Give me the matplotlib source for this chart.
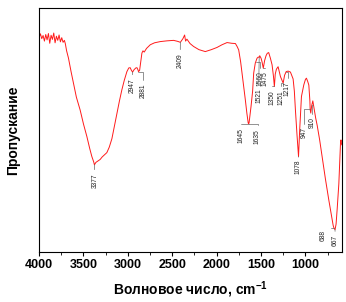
import numpy as np
import matplotlib
matplotlib.use('Agg')
import matplotlib.pyplot as plt
from matplotlib.ticker import MultipleLocator

plt.rcParams['font.family'] = ['Liberation Sans', 'DejaVu Sans']
plt.rcParams['mathtext.fontset'] = 'custom'
plt.rcParams['mathtext.bf'] = 'Liberation Sans:bold'
plt.rcParams['mathtext.rm'] = 'Liberation Sans:bold'

# IR spectrum (wavenumber, transmittance in arbitrary units)
wavenumber = [4000, 3985, 3970, 3955, 3940, 3925, 3910, 3895, 3880, 3865, 3850, 3835, 3820,
              3805, 3790, 3775, 3760, 3745, 3730, 3715, 3705, 3690, 3669, 3640, 3613, 3580,
              3538, 3500, 3462, 3430, 3406, 3385, 3377, 3360, 3340, 3312, 3290, 3260, 3237,
              3210, 3180, 3150, 3124, 3095, 3068, 3040, 3011, 2990, 2974, 2960, 2947, 2930,
              2910, 2898, 2885, 2881, 2868, 2855, 2842, 2830, 2816, 2790, 2748, 2700, 2635,
              2560, 2485, 2440, 2409, 2380, 2361, 2350, 2335, 2300, 2260, 2200, 2128, 2060,
              1996, 1940, 1883, 1830, 1789, 1770, 1752, 1730, 1714, 1695, 1677, 1660, 1645,
              1640, 1635, 1613, 1595, 1583, 1565, 1545, 1530, 1521, 1515, 1500, 1489, 1475,
              1460, 1444, 1430, 1414, 1395, 1376, 1360, 1350, 1340, 1327, 1308, 1295, 1282,
              1265, 1251, 1235, 1217, 1195, 1169, 1150, 1139, 1125, 1113, 1095, 1078, 1065,
              1045, 1030, 1019, 1000, 989, 975, 962, 950, 947, 940, 930, 917, 910, 898, 885,
              868, 840, 812, 775, 737, 700, 688, 680, 667, 655, 642, 624, 612, 605, 600, 595,
              590]
transmittance = [88.0, 89.5, 87.5, 88.8, 86.5, 89.2, 87.0, 89.6, 85.6, 88.9, 87.2, 89.8, 85.8,
                 88.5, 86.8, 89.0, 86.2, 87.9, 86.0, 86.8, 85.5, 82.5, 79.5, 74.0, 69.3, 63.5,
                 58.3, 52.5, 47.4, 42.5, 39.2, 37.0, 35.8, 36.8, 37.3, 38.0, 39.0, 40.0, 40.8,
                 43.0, 46.5, 52.0, 57.0, 62.0, 66.5, 70.5, 74.0, 75.5, 75.6, 74.5, 73.8, 74.8,
                 75.5, 75.6, 74.6, 74.0, 74.5, 78.0, 81.6, 82.5, 82.0, 83.5, 85.0, 85.8, 86.3,
                 86.6, 86.8, 86.4, 86.0, 87.5, 89.0, 86.5, 87.3, 85.5, 84.3, 83.0, 82.2, 83.0,
                 83.9, 85.0, 85.9, 85.6, 85.5, 84.3, 82.9, 78.0, 73.4, 68.0, 62.4, 57.0, 53.0,
                 52.6, 53.0, 59.7, 66.0, 73.4, 77.5, 79.5, 80.0, 79.8, 80.5, 79.5, 78.0, 75.4,
                 78.5, 80.5, 81.5, 81.8, 79.5, 76.8, 72.0, 67.9, 73.0, 75.0, 76.0, 74.0, 72.0,
                 70.5, 69.3, 72.5, 74.0, 74.2, 73.8, 72.0, 71.0, 66.0, 58.3, 48.0, 39.2, 50.0,
                 63.8, 66.5, 68.5, 70.8, 71.3, 70.0, 68.5, 62.0, 58.5, 57.0, 60.0, 62.0, 60.5,
                 58.0, 55.0, 52.0, 46.0, 39.2, 30.0, 21.4, 13.5, 11.0, 10.0, 9.2, 11.5, 18.0,
                 28.0, 38.0, 44.7, 46.0, 44.5, 44.0]

# peak labels: label, peak position, text position, text top
peak_labels = ['3377', '2947', '2881', '2409', '1645', '1635', '1560', '1521', '1475',
               '1350', '1251', '1217', '1078', '947', '910', '688', '667']
peak_pos = [3377, 2947, 2881, 2409, 1640, 1640, 1560, 1521, 1475,
            1350, 1251, 1217, 1078, 947, 910, 680, 667]
text_pos = [3369, 2955, 2831, 2411, 1727, 1540, 1517, 1528, 1453,
            1377, 1273, 1202, 1085, 1013, 927, 796, 664]
text_top = [32.4, 71.3, 69.3, 81.6, 51.0, 50.5, 74.0, 67.0, 74.0,
            66.5, 66.5, 70.0, 37.8, 51.3, 55.4, 9.1, 7.1]

fig = plt.figure(figsize=(3.46, 3.02), dpi=100)
ax = fig.add_axes([0.113, 0.165, 0.875, 0.808])

ax.plot(wavenumber, transmittance, color='#ff1a1a', lw=0.7)

for lab, px, tx, ty in zip(peak_labels, peak_pos, text_pos, text_top):
    py = np.interp(px, wavenumber[::-1], transmittance[::-1])
    if abs(tx - px) < 15:
        style = 'arc3'
    else:
        style = 'angle,angleA=90,angleB=0,rad=0'
    ax.annotate(lab, xy=(px, py), xytext=(tx, ty), rotation=90,
                ha='center', va='top', fontsize=4.8, color='#222222',
                arrowprops=dict(arrowstyle='-', color='#666666', lw=0.5,
                                shrinkA=0.5, shrinkB=0, connectionstyle=style))

ax.set_xlim(4000, 590)
ax.set_ylim(0, 100)
ax.xaxis.set_major_locator(MultipleLocator(500))
ax.xaxis.set_minor_locator(MultipleLocator(250))
ax.set_yticks([])
ax.tick_params(axis='x', which='major', length=3, width=0.8, labelsize=9, pad=2)
ax.tick_params(axis='x', which='minor', length=2, width=0.6)
for lbl in ax.get_xticklabels():
    lbl.set_fontweight('bold')
for sp in ax.spines.values():
    sp.set_linewidth(0.8)

ax.set_xlabel(r'Волновое число, cm$\mathbf{^{-1}}$', fontsize=10, fontweight='bold', labelpad=6)
ax.set_ylabel('Пропускание', fontsize=10, fontweight='bold', labelpad=14)

fig.savefig('out.png', dpi=100)
